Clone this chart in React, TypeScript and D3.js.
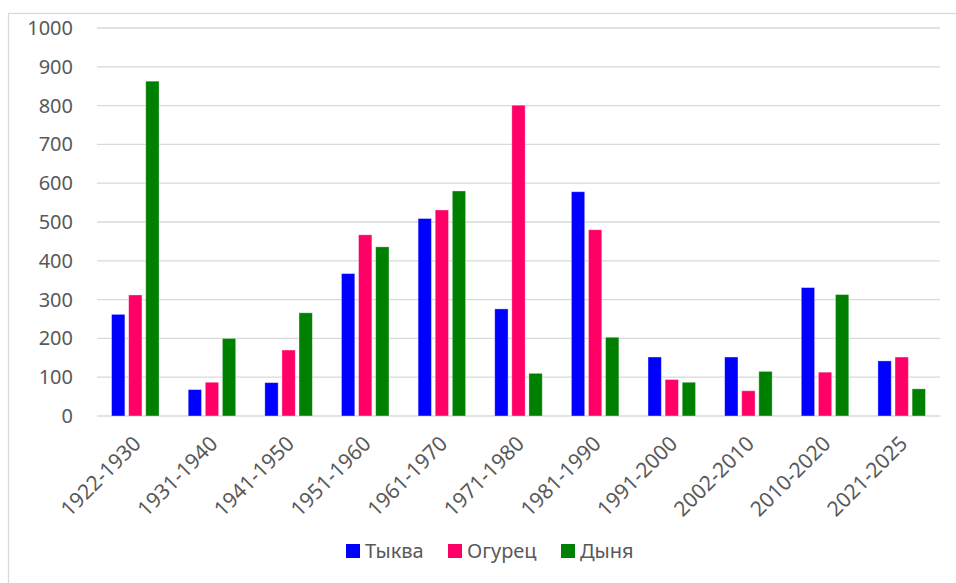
import React, { useRef, useEffect } from 'react';
import * as d3 from 'd3';

const CATEGORIES = [
  '1922-1930', '1931-1940', '1941-1950', '1951-1960', '1961-1970', '1971-1980',
  '1981-1990', '1991-2000', '2002-2010', '2010-2020', '2021-2025',
];

const SERIES = ['Тыква', 'Огурец', 'Дыня'];

const PUMPKIN = [262, 68, 86, 367, 509, 276, 578, 152, 152, 331, 142];
const CUCUMBER = [312, 87, 170, 467, 531, 801, 480, 94, 65, 113, 152];
const MELON = [863, 200, 266, 436, 580, 110, 203, 87, 115, 313, 70];

const Y_TICKS = [0, 100, 200, 300, 400, 500, 600, 700, 800, 900, 1000];

const COLORS = ['#0000ff', '#ff0066', '#008000'];

const W = 956;
const H = 583;
const FONT = '"Noto Sans", "Open Sans", sans-serif';
const TEXT = '#595959';
const GRID = '#d9d9d9';

const App: React.FC = () => {
  const svgRef = useRef<SVGSVGElement>(null);

  useEffect(() => {
    if (!svgRef.current) return;
    const margin = { top: 28, right: 16, bottom: 167, left: 97 };
    const width = W - margin.left - margin.right;
    const height = H - margin.top - margin.bottom;

    const svg = d3.select(svgRef.current);
    svg.selectAll('*').remove();

    // chart frame
    svg.append('rect')
      .attr('x', 8.5).attr('y', 13.5)
      .attr('width', W + 20).attr('height', H + 20)
      .attr('fill', '#fff')
      .attr('stroke', GRID)
      .attr('stroke-width', 1.3);

    const g = svg.append('g').attr('transform', `translate(${margin.left},${margin.top})`);

    const x0 = d3.scaleBand().domain(CATEGORIES).range([0, width]).paddingInner(0.38).paddingOuter(0.19);
    const x1 = d3.scaleBand().domain(SERIES).range([0, x0.bandwidth()]).paddingInner(0.22);
    const y = d3.scaleLinear().domain([0, 1000]).range([height, 0]);

    // grid lines
    g.append('g')
      .selectAll('line')
      .data(Y_TICKS)
      .join('line')
      .attr('x1', 0)
      .attr('x2', width)
      .attr('y1', d => y(d))
      .attr('y2', d => y(d))
      .attr('stroke', GRID)
      .attr('stroke-width', 1.3);

    // y labels
    g.append('g')
      .selectAll('text')
      .data(Y_TICKS)
      .join('text')
      .attr('x', -24)
      .attr('y', d => y(d))
      .attr('dy', '0.35em')
      .attr('text-anchor', 'end')
      .attr('fill', TEXT)
      .attr('font-size', 20)
      .attr('font-family', FONT)
      .text(d => d);

    // bars
    const values = [PUMPKIN, CUCUMBER, MELON];
    const rows = CATEGORIES.flatMap((c, i) =>
      SERIES.map((s, j) => ({ cat: c, series: s, value: values[j][i], color: COLORS[j] }))
    );
    g.append('g')
      .selectAll('rect')
      .data(rows)
      .join('rect')
      .attr('x', d => x0(d.cat)! + x1(d.series)!)
      .attr('y', d => y(d.value))
      .attr('width', x1.bandwidth())
      .attr('height', d => height - y(d.value))
      .attr('fill', d => d.color)
      .attr('stroke', '#ffffff')
      .attr('stroke-opacity', 0.45)
      .attr('stroke-width', 0.8);

    // x labels
    g.append('g')
      .selectAll('text')
      .data(CATEGORIES)
      .join('text')
      .attr('transform', d => `translate(${x0(d)! + x0.bandwidth() / 2 + 7},${height + 29}) rotate(-45)`)
      .attr('text-anchor', 'end')
      .attr('fill', TEXT)
      .attr('font-size', 21)
      .attr('font-family', FONT)
      .text(d => d);

    // legend
    const legendX = [346, 448, 561];
    const legend = svg.append('g')
      .selectAll('g')
      .data(SERIES)
      .join('g')
      .attr('transform', (d, i) => `translate(${legendX[i]},544)`);
    legend.append('rect')
      .attr('width', 14)
      .attr('height', 14)
      .attr('fill', (d, i) => COLORS[i]);
    legend.append('text')
      .attr('x', 19)
      .attr('y', 13.5)
      .attr('fill', TEXT)
      .attr('font-size', 20)
      .attr('font-family', FONT)
      .text(d => d);
  }, []);

  return (
    <svg
      ref={svgRef}
      width={W}
      height={H}
      style={{ position: 'absolute', left: 0, top: 0, background: '#fff' }}
    />
  );
};

export default App;
